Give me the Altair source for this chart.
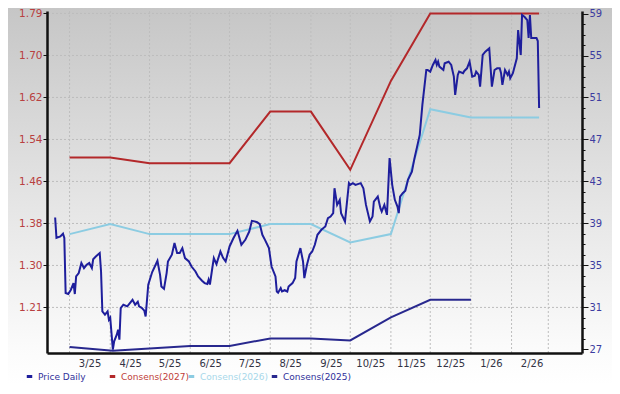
import altair as alt
import pandas as pd

BASE = pd.Timestamp("2025-03-01")

# ---- data (days since 2025-03-01) ----
price_days = [-11, -10, -7, -5, -4, -3, -1, 1, 3, 4, 5, 7, 9, 11, 13, 15, 17, 18, 20, 23,
              24, 25, 27, 29, 30, 31, 33, 34, 36, 37, 38, 39, 41, 44, 46, 48, 50, 52, 53, 55,
              57, 58, 60, 63, 65, 67, 69, 70, 72, 74, 75, 78, 80, 82, 84, 86, 88, 91, 93, 96,
              98, 101, 103, 105, 106, 107, 109, 110, 112, 115, 117, 119, 122, 125, 128, 131, 134, 137, 139, 143,
              145, 147, 149, 152, 154, 157, 158, 159, 161, 162, 164, 166, 167, 170, 172, 173, 176, 178, 179, 181,
              183, 185, 187, 189, 192, 195, 197, 199, 201, 202, 204, 206, 207, 210, 213, 214, 216, 218, 222, 224,
              226, 229, 231, 232, 235, 237, 238, 240, 242, 244, 246, 248, 250, 251, 252, 254, 256, 258, 261, 263,
              267, 269, 272, 273, 275, 277, 279, 280, 281, 282, 285, 286, 289, 291, 293, 294, 296, 297, 300, 301,
              303, 305, 307, 309, 310, 312, 313, 315, 317, 320, 322, 324, 326, 328, 329, 330, 332, 334, 335, 336,
              338, 341, 342, 344, 345, 347, 349, 350, 351, 352, 354, 356, 357, 358]
price_vals = [39.57, 37.63, 37.76, 38.03, 37.63, 32.37, 32.28, 32.69, 33.32, 32.28, 33.95, 34.27, 35.23, 34.75, 35.06, 35.23, 34.75, 35.59, 35.85, 36.18,
              34.43, 30.62, 30.31, 30.62, 29.83, 30.02, 26.98, 27.77, 28.40, 28.88, 27.93, 30.94, 31.26, 31.10, 31.42, 31.73, 31.26, 31.54, 31.10, 30.97,
              30.69, 30.14, 33.16, 34.37, 34.90, 35.45, 34.11, 33.00, 32.78, 34.27, 35.38, 36.02, 37.13, 36.18, 36.18, 36.65, 35.70, 35.38, 34.90, 34.43,
              33.95, 33.54, 33.32, 33.23, 33.65, 33.18, 34.90, 35.70, 35.13, 36.33, 35.73, 35.38, 36.81, 37.61, 38.30, 36.97, 37.44, 38.23, 39.25, 39.13,
              38.94, 37.92, 37.44, 36.65, 34.90, 33.95, 32.52, 32.40, 32.85, 32.52, 32.64, 32.52, 33.00, 33.32, 33.80, 35.38, 36.65, 35.38, 33.80, 35.06,
              36.02, 36.33, 36.97, 37.92, 38.40, 38.71, 39.51, 39.66, 39.98, 42.36, 40.77, 41.25, 39.98, 39.19, 42.84, 42.68, 42.84, 42.68, 42.84, 42.36,
              40.77, 39.19, 39.66, 41.09, 41.56, 40.46, 40.14, 40.77, 39.82, 45.22, 42.68, 41.25, 40.61, 39.98, 41.56, 41.89, 42.11, 43.15, 43.94, 45.22,
              47.44, 50.29, 53.62, 53.62, 53.46, 54.10, 54.57, 54.10, 54.41, 53.94, 53.62, 54.26, 54.41, 54.10, 52.99, 51.24, 53.15, 53.46, 53.31, 53.53,
              53.78, 54.41, 52.99, 53.08, 53.46, 53.15, 52.03, 55.05, 55.36, 55.69, 52.03, 53.62, 53.78, 53.78, 53.31, 52.20, 53.62, 53.15, 53.46, 52.83,
              53.31, 54.74, 57.43, 55.05, 58.86, 58.67, 58.38, 56.67, 58.86, 56.67, 56.67, 56.67, 56.38, 50.00]

cons_days = [0, 31, 61, 92, 122, 153, 184, 214, 245, 275, 306, 337, 358]
cons_2027 = [1.5057, 1.5057, 1.4947, 1.4947, 1.4947, 1.5964, 1.5964, 1.4815, 1.6569, 1.79, 1.79, 1.79, 1.79]
cons_2026 = [1.3547, 1.3744, 1.3547, 1.3547, 1.3547, 1.3744, 1.3744, 1.3382, 1.3547, 1.6011, 1.5846, 1.5846, 1.5846]
cons_2025_days = [0, 33, 92, 122, 153, 184, 214, 245, 275, 306]
cons_2025 = [1.1319, 1.1246, 1.1339, 1.1339, 1.1489, 1.1489, 1.1450, 1.1903, 1.2252, 1.2252]

month_starts = ["2025-03-01", "2025-04-01", "2025-05-01", "2025-06-01", "2025-07-01", "2025-08-01",
                "2025-09-01", "2025-10-01", "2025-11-01", "2025-12-01", "2026-01-01", "2026-02-01", "2026-03-01"]
month_label_months = [(2025, 3), (2025, 4), (2025, 5), (2025, 6), (2025, 7), (2025, 8), (2025, 9),
                      (2025, 10), (2025, 11), (2025, 12), (2026, 1), (2026, 2)]

left_ticks = [1.79, 1.7071, 1.6243, 1.5414, 1.4586, 1.3757, 1.2929, 1.21]
left_labels = ["1.79", "1.70", "1.62", "1.54", "1.46", "1.38", "1.30", "1.21"]
right_ticks = list(range(27, 60))
right_major = [31, 35, 39, 43, 47, 51, 55, 59]

series_names = ["Price Daily", "Consens(2027)", "Consens(2026)", "Consens(2025)"]
series_colors = ["#1e1e9c", "#b3282a", "#8ccce2", "#28288e"]
label_colors = ["#30309a", "#c0403a", "#a8d8ea", "#30309a"]

# ---- layout ----
W, H = 535, 342
PAD = {"left": 39, "top": 3, "right": 30, "bottom": 32}
FONT = "DejaVu Sans"


def to_dates(days):
    return [(BASE + pd.Timedelta(days=int(d))).strftime("%Y-%m-%d") for d in days]


X_DOMAIN = [alt.DateTime(year=2025, month=2, date=11, hours=19, utc=True),
            alt.DateTime(year=2026, month=3, date=26, hours=17, utc=True)]
x_axis = alt.Axis(values=[alt.DateTime(year=y, month=m, date=1, utc=True) for y, m in month_label_months],
                  labelExpr="utcFormat(datum.value, '%-m/%y')", grid=False, ticks=False, domain=True,
                  domainColor="#111111", domainWidth=2.5, labelOffset=20, labelPadding=5,
                  labelFont=FONT, labelFontSize=10, labelColor="#333344", labelFlush=False,
                  labelOverlap=False, title=None, zindex=1)


def xenc():
    return alt.X("date:T", scale=alt.Scale(type="utc", domain=X_DOMAIN), axis=x_axis)


left_scale = alt.Scale(domain=[1.1201, 1.7949], nice=False, zero=False)
right_scale = alt.Scale(domain=[26.66, 59.24], nice=False, zero=False)

left_map = "{" + ",".join(f"'{v:.4f}':'{l}'" for v, l in zip(left_ticks, left_labels)) + "}"
left_axis = alt.Axis(orient="left", values=left_ticks,
                     labelExpr=f"{left_map}[format(datum.value, '.4f')]",
                     grid=False, domainColor="#111111", domainWidth=2.5, tickColor="#111111",
                     tickSize=4, tickWidth=1, labelPadding=1, labelColor="#b84040",
                     labelFont=FONT, labelFontSize=10.5, labelOverlap=False, title=None, zindex=1)
major_test = "(59 - datum.value) % 4 == 0"
right_axis = alt.Axis(orient="right", values=right_ticks,
                      labelExpr=f"{major_test} ? datum.label : ''",
                      tickSize={"condition": {"test": major_test, "value": 6}, "value": 3},
                      grid=False, domainColor="#111111", domainWidth=2.5, tickColor="#111111",
                      tickWidth=1, labelPadding=1, labelColor="#3c3ca0", labelFont=FONT,
                      labelFontSize=10, labelOverlap=False, title=None, zindex=1)

LEG_Y = 361
leg_x = [-22, 61, 140, 223]


def legend(i):
    return alt.Legend(orient="none", legendX=leg_x[i], legendY=LEG_Y, title=None,
                      symbolType="stroke", symbolStrokeWidth=3, symbolSize=30,
                      symbolStrokeColor=series_colors[i], labelColor=label_colors[i],
                      labelFont=FONT, labelFontSize=9, padding=0, labelOffset=4)


def color(i):
    return alt.Color("series:N", scale=alt.Scale(domain=[series_names[i]], range=[series_colors[i]]),
                     legend=legend(i))


# ---- background gradient ----
bg = alt.Chart(pd.DataFrame({"k": [0]})).mark_rect(
    fill=alt.LinearGradient(gradient="linear", x1=0, x2=0, y1=0, y2=1,
                            stops=[alt.GradientStop(offset=0, color="#c6c6c6"),
                                   alt.GradientStop(offset=0.5, color="#e4e4e4"),
                                   alt.GradientStop(offset=0.9, color="#fbfbfb"),
                                   alt.GradientStop(offset=1, color="#ffffff")])
).encode(x=alt.value(-PAD["left"]), x2=alt.value(W + PAD["right"]),
         y=alt.value(-PAD["top"]), y2=alt.value(H + PAD["bottom"]))

vgrid = alt.Chart(pd.DataFrame({"date": month_starts})).mark_rule(
    color="#bdbdbd", strokeDash=[2, 2], strokeWidth=1).encode(x=xenc())
hgrid = alt.Chart(pd.DataFrame({"v": left_ticks})).mark_rule(
    color="#bdbdbd", strokeDash=[2, 2], strokeWidth=1).encode(
    y=alt.Y("v:Q", scale=left_scale, axis=None))

df27 = pd.DataFrame({"date": to_dates(cons_days), "v": cons_2027, "series": series_names[1]})
df26 = pd.DataFrame({"date": to_dates(cons_days), "v": cons_2026, "series": series_names[2]})
df25 = pd.DataFrame({"date": to_dates(cons_2025_days), "v": cons_2025, "series": series_names[3]})
dfp = pd.DataFrame({"date": to_dates(price_days), "v": price_vals, "series": series_names[0]})

c27 = alt.Chart(df27).mark_line(strokeWidth=2).encode(
    x=xenc(), y=alt.Y("v:Q", scale=left_scale, axis=left_axis), color=color(1))
c26 = alt.Chart(df26).mark_line(strokeWidth=2).encode(
    x=xenc(), y=alt.Y("v:Q", scale=left_scale, axis=None), color=color(2))
c25 = alt.Chart(df25).mark_line(strokeWidth=2).encode(
    x=xenc(), y=alt.Y("v:Q", scale=left_scale, axis=None), color=color(3))
price = alt.Chart(dfp).mark_line(strokeWidth=2).encode(
    x=xenc(), y=alt.Y("v:Q", scale=right_scale, axis=right_axis), color=color(0))

chart = alt.layer(bg, vgrid, hgrid, c25, c26, c27, price).resolve_scale(
    y="independent", color="independent"
).properties(
    width=W, height=H, autosize=alt.AutoSizeParams(type="none"), padding=PAD
).configure_view(stroke="transparent")

chart.save("out.html", embed_options={"renderer": "svg", "actions": False})
